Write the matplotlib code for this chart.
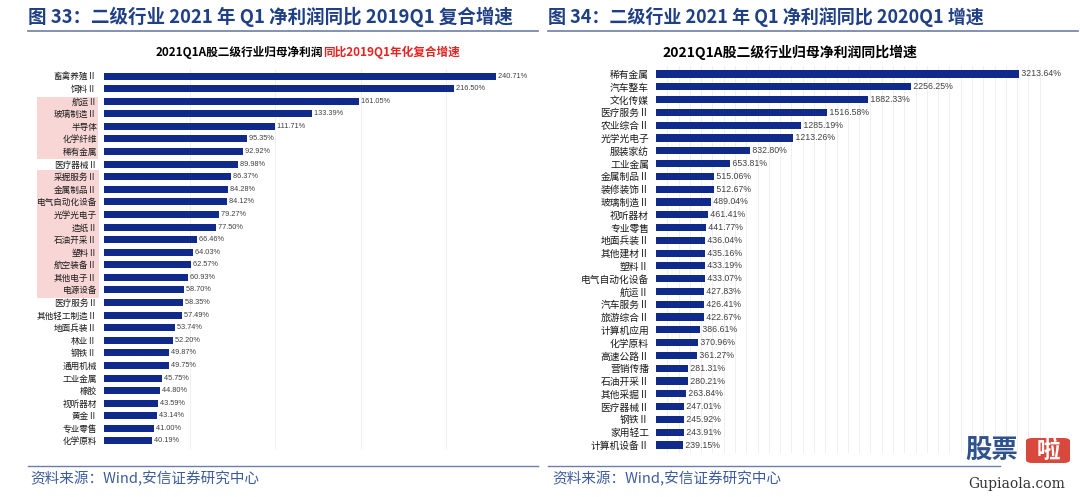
import matplotlib.pyplot as plt
from matplotlib.patches import Rectangle, FancyBboxPatch
from matplotlib.lines import Line2D
import numpy as np

plt.rcParams['font.family'] = ['Noto Sans CJK SC', 'DejaVu Sans']

W, H = 1080, 497

# 图33: 2021Q1 vs 2019Q1 年化复合增速 (%)
cats_19 = ['畜禽养殖Ⅱ', '饲料Ⅱ', '航运Ⅱ', '玻璃制造Ⅱ', '半导体', '化学纤维', '稀有金属',
           '医疗器械Ⅱ', '采掘服务Ⅱ', '金属制品Ⅱ', '电气自动化设备', '光学光电子', '造纸Ⅱ',
           '石油开采Ⅱ', '塑料Ⅱ', '航空装备Ⅱ', '其他电子Ⅱ', '电源设备', '医疗服务Ⅱ',
           '其他轻工制造Ⅱ', '地面兵装Ⅱ', '林业Ⅱ', '钢铁Ⅱ', '通用机械', '工业金属', '橡胶',
           '视听器材', '黄金Ⅱ', '专业零售', '化学原料']
vals_19 = [240.71, 216.50, 161.05, 133.39, 111.71, 95.35, 92.92, 89.98, 86.37, 84.28,
           84.12, 79.27, 77.50, 66.46, 64.03, 62.57, 60.93, 58.70, 58.35, 57.49,
           53.74, 52.20, 49.87, 49.75, 45.75, 44.80, 43.59, 43.14, 41.00, 40.19]

# 图34: 2021Q1 vs 2020Q1 同比增速 (%)
cats_20 = ['稀有金属', '汽车整车', '文化传媒', '医疗服务Ⅱ', '农业综合Ⅱ', '光学光电子', '服装家纺',
           '工业金属', '金属制品Ⅱ', '装修装饰Ⅱ', '玻璃制造Ⅱ', '视听器材', '专业零售',
           '地面兵装Ⅱ', '其他建材Ⅱ', '塑料Ⅱ', '电气自动化设备', '航运Ⅱ', '汽车服务Ⅱ',
           '旅游综合Ⅱ', '计算机应用', '化学原料', '高速公路Ⅱ', '营销传播', '石油开采Ⅱ',
           '其他采掘Ⅱ', '医疗器械Ⅱ', '钢铁Ⅱ', '家用轻工', '计算机设备Ⅱ']
vals_20 = [3213.64, 2256.25, 1882.33, 1516.58, 1285.19, 1213.26, 832.80, 653.81, 515.06,
           512.67, 489.04, 461.41, 441.77, 436.04, 435.16, 433.19, 433.07, 427.83, 426.41,
           422.67, 386.61, 370.96, 361.27, 281.31, 280.21, 263.84, 247.01, 245.92, 243.91,
           239.15]

BAR = '#0f2a8a'
HEAD = '#1f3f86'
SRC = '#3d5c9e'

fig = plt.figure(figsize=(W / 100, H / 100), dpi=100)


def fx(x):
    return x / W


def fy(y):
    return 1 - y / H


def panel(box, cats, vals, xlim, grid, lab_fs, val_fs, pad):
    # box = left, top, right, bottom in pixels
    l, t, r, b = box
    ax = fig.add_axes([fx(l), fy(b), (r - l) / W, (b - t) / H])
    ax.set_facecolor('none')
    y = np.arange(len(cats))
    ax.barh(y, vals, height=0.56, color=BAR, zorder=2)
    for yi, v in zip(y, vals):
        ax.text(v, yi, ' %.2f%%' % v, va='center', ha='left', fontsize=val_fs,
                color='#404040', zorder=3, family=['Liberation Sans', 'DejaVu Sans'])
    ax.set_xlim(*xlim)
    ax.set_ylim(len(cats) - 0.4, -0.6)
    ax.set_yticks(y)
    ax.set_yticklabels(cats, fontsize=lab_fs, color='#1a1a1a')
    ax.set_xticks(grid)
    ax.set_xticklabels([])
    ax.tick_params(length=0, pad=pad)
    ax.grid(axis='x', color='#ececec', lw=0.6, zorder=0)
    for s in ax.spines.values():
        s.set_visible(False)
    return ax


# pink highlight blocks behind left labels
fig.add_artist(Rectangle((fx(37), fy(159)), 61 / W, 62 / H, transform=fig.transFigure,
                         color='#f9d6d6', lw=0, zorder=-1))
fig.add_artist(Rectangle((fx(37), fy(298)), 62 / W, 128 / H, transform=fig.transFigure,
                         color='#f9d6d6', lw=0, zorder=-1))

panel((104, 68.5, 532, 448.5), cats_19, vals_19, (12, 262), [62, 112, 162, 212], 6.2, 5.3, 5)
panel((656, 66.3, 1051, 452.7), cats_20, vals_20, (0, 3500), np.arange(100, 3500, 100),
      7.0, 6.3, 5)

# headings
fig.text(fx(28), fy(17), '图 33：二级行业 2021 年 Q1 净利润同比 2019Q1 复合增速',
         fontsize=13.3, fontweight='bold', color=HEAD, va='center', ha='left')
fig.text(fx(548), fy(17), '图 34：二级行业 2021 年 Q1 净利润同比 2020Q1 增速',
         fontsize=13.0, fontweight='bold', color=HEAD, va='center', ha='left')
fig.add_artist(Line2D([fx(28), fx(538)], [fy(31), fy(31)], color='#6b7fa8', lw=1.2))
fig.add_artist(Line2D([fx(548), fx(1078)], [fy(31), fy(31)], color='#6b7fa8', lw=1.2))

# chart subtitles
fig.text(fx(323), fy(52), '2021Q1A股二级行业归母净利润', fontsize=8.4, fontweight='bold',
         color='black', va='center', ha='right')
fig.text(fx(323), fy(52), '同比2019Q1年化复合增速', fontsize=8.4, fontweight='bold',
         color='#e8231f', va='center', ha='left')
fig.text(fx(790), fy(52), '2021Q1A股二级行业归母净利润同比增速', fontsize=10,
         fontweight='bold', color='black', va='center', ha='center')

# sources
fig.add_artist(Line2D([fx(28), fx(538)], [fy(466), fy(466)], color='#6b7fa8', lw=1.0))
fig.add_artist(Line2D([fx(548), fx(1000)], [fy(466), fy(466)], color='#6b7fa8', lw=1.0))
fig.text(fx(30), fy(479), '资料来源：Wind,安信证券研究中心', fontsize=10.5, color=SRC,
         va='center', ha='left', style='italic')
fig.text(fx(552), fy(479), '资料来源：Wind,安信证券研究中心', fontsize=10.5, color=SRC,
         va='center', ha='left', style='italic')

# watermark
fig.text(fx(992), fy(451), '股票', fontsize=19, fontweight='bold', color='#2f528f',
         va='center', ha='center')
fig.add_artist(FancyBboxPatch((fx(1026), fy(463)), 44 / W, 25 / H, transform=fig.transFigure,
                              boxstyle='round,pad=0,rounding_size=0.006', color='#d8483c', lw=0))
fig.text(fx(1048), fy(451), '啦', fontsize=17, fontweight='bold', color='white',
         va='center', ha='center')
fig.text(fx(1017), fy(484), 'Gupiaola.com', fontsize=10, color='#333333', va='center',
         ha='center', family='DejaVu Serif')

fig.savefig('out.png', dpi=100)
